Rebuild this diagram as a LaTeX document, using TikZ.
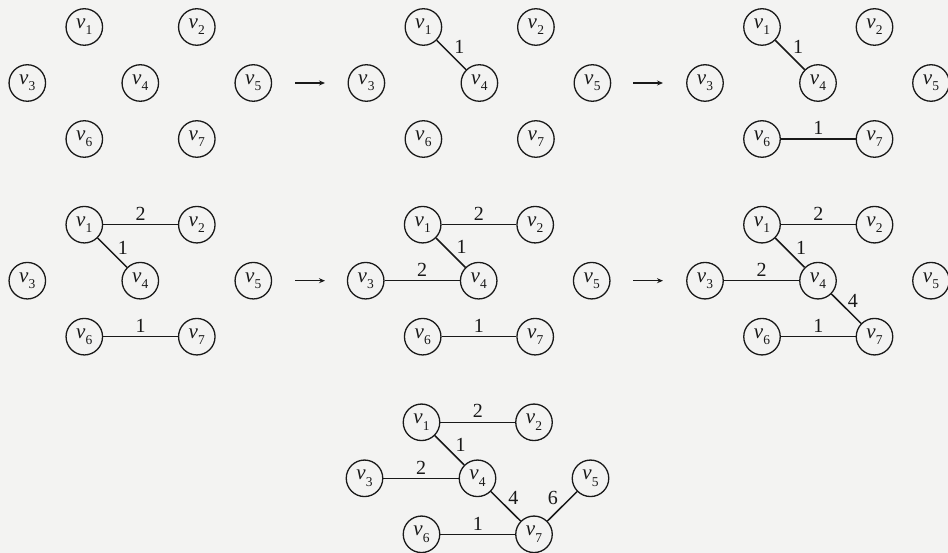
\documentclass[tikz,border=0pt]{standalone}
\usepackage{fontspec}
\setmainfont{Liberation Serif}
\usetikzlibrary{arrows.meta}
\definecolor{ink}{RGB}{25,25,25}
\definecolor{paper}{RGB}{243,243,242}
\newcommand\vl[1]{\textit{v}\kern0.3pt\raisebox{-0.3em}{\fontsize{13.5}{13.5}\selectfont #1}}
\newcommand\mkpanel[3]{%
 \node[vtx] (#1v1) at (#2+57,#3-56) {\vl{1}};
 \node[vtx] (#1v2) at (#2+169.5,#3-56) {\vl{2}};
 \node[vtx] (#1v3) at (#2,#3) {\vl{3}};
 \node[vtx] (#1v4) at (#2+113,#3) {\vl{4}};
 \node[vtx] (#1v5) at (#2+226,#3) {\vl{5}};
 \node[vtx] (#1v6) at (#2+57,#3+56) {\vl{6}};
 \node[vtx] (#1v7) at (#2+169.5,#3+56) {\vl{7}};}
\tikzset{
 vtx/.style={circle, draw=ink, line width=1.3pt, minimum size=36.5pt, inner sep=0pt, font=\fontsize{21}{21}\selectfont, text=ink},
 wline/.style={draw=ink, line width=1.5pt},
 lbl/.style={font=\fontsize{20}{20}\selectfont, text=ink, inner sep=0pt},
 arr/.style={-{Stealth[length=6pt,width=5pt]}, line width=1.5pt, draw=ink}
}
\begin{document}
\begin{tikzpicture}[x=1pt,y=-1pt]
\fill[paper] (0,0) rectangle (948,553);
\useasboundingbox (0,0) rectangle (948,553);
% panels
\mkpanel{a}{27.3}{83}
\mkpanel{b}{366.4}{83}
\mkpanel{c}{705}{83}
\mkpanel{d}{27.3}{280.7}
\mkpanel{e}{365.7}{280.7}
\mkpanel{f}{705}{280.7}
\mkpanel{g}{364.5}{478.3}
% arrows
\coordinate (r1s) at (295,83); \coordinate (r1e) at (325,83);
\coordinate (r2s) at (633,83); \coordinate (r2e) at (663,83);
\coordinate (r3s) at (295,280.7); \coordinate (r3e) at (325,280.7);
\coordinate (r4s) at (633,280.7); \coordinate (r4e) at (663,280.7);
\draw[arr] (r1s) -- (r1e);
\draw[arr] (r2s) -- (r2e);
\draw[arr] (r3s) -- (r3e);
\draw[arr] (r4s) -- (r4e);
% panel b
\draw[wline] (bv1) -- (bv4) node[lbl, midway, xshift=8pt, yshift=8.5pt] {1};
% panel c
\draw[wline] (cv1) -- (cv4) node[lbl, midway, xshift=8pt, yshift=8.5pt] {1};
\draw[wline] (cv6) -- (cv7) node[lbl, midway, yshift=11.5pt] {1};
% panel d
\draw[wline] (dv1) -- (dv2) node[lbl, midway, yshift=11pt] {2};
\draw[wline] (dv1) -- (dv4) node[lbl, midway, xshift=10.5pt, yshift=5pt] {1};
\draw[wline] (dv6) -- (dv7) node[lbl, midway, yshift=10.5pt] {1};
% panel e
\draw[wline] (ev1) -- (ev2) node[lbl, midway, yshift=11pt] {2};
\draw[wline] (ev1) -- (ev4) node[lbl, midway, xshift=11pt, yshift=5.5pt] {1};
\draw[wline] (ev3) -- (ev4) node[lbl, midway, yshift=10.5pt] {2};
\draw[wline] (ev6) -- (ev7) node[lbl, midway, yshift=10.5pt] {1};
% panel f
\draw[wline] (fv1) -- (fv2) node[lbl, midway, yshift=11pt] {2};
\draw[wline] (fv1) -- (fv4) node[lbl, midway, xshift=11pt, yshift=5pt] {1};
\draw[wline] (fv3) -- (fv4) node[lbl, midway, yshift=10.5pt] {2};
\draw[wline] (fv4) -- (fv7) node[lbl, midway, xshift=6.5pt, yshift=7.5pt] {4};
\draw[wline] (fv6) -- (fv7) node[lbl, midway, yshift=10.5pt] {1};
% panel g
\draw[wline] (gv1) -- (gv2) node[lbl, midway, yshift=11pt] {2};
\draw[wline] (gv1) -- (gv4) node[lbl, midway, xshift=11pt, yshift=5pt] {1};
\draw[wline] (gv3) -- (gv4) node[lbl, midway, yshift=10.5pt] {2};
\draw[wline] (gv4) -- (gv7) node[lbl, midway, xshift=7.5pt, yshift=8pt] {4};
\draw[wline] (gv6) -- (gv7) node[lbl, midway, yshift=10.5pt] {1};
\draw[wline] (gv7) -- (gv5) node[lbl, midway, xshift=-9.5pt, yshift=8pt] {6};
\end{tikzpicture}
\end{document}
